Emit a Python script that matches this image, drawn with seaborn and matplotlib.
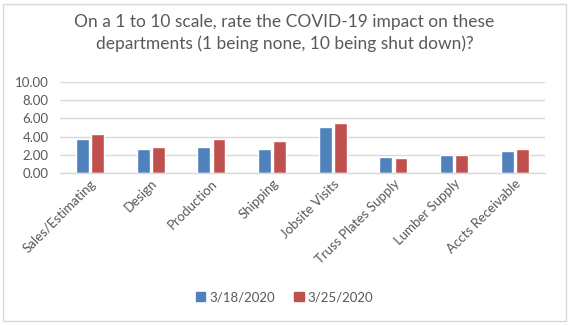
import matplotlib
matplotlib.use("Agg")
import matplotlib.pyplot as plt
import seaborn as sns
import pandas as pd
from matplotlib.patches import Rectangle

departments = ["Sales/Estimating", "Design", "Production", "Shipping",
               "Jobsite Visits", "Truss Plates Supply", "Lumber Supply",
               "Accts Receivable"]
survey_dates = ["3/18/2020", "3/25/2020"]
impact_mar18 = [3.74, 2.65, 2.87, 2.65, 5.05, 1.78, 2.00, 2.44]
impact_mar25 = [4.29, 2.87, 3.74, 3.52, 5.49, 1.67, 2.00, 2.65]
y_ticks = [0, 2, 4, 6, 8, 10]

df = pd.DataFrame({
    "Department": departments * 2,
    "Date": [survey_dates[0]] * len(departments) + [survey_dates[1]] * len(departments),
    "Impact": impact_mar18 + impact_mar25,
})

sns.set_theme(style="white")
plt.rcParams["font.family"] = ["Lato", "DejaVu Sans"]

fig = plt.figure(figsize=(5.69, 3.25), dpi=100)
ax = fig.add_axes([0.105, 0.467, 0.853, 0.282])

palette = {survey_dates[0]: "#4F81BD", survey_dates[1]: "#C0504D"}
sns.barplot(data=df, x="Department", y="Impact", hue="Date", palette=palette,
            order=departments, hue_order=survey_dates, width=0.5, gap=0.15,
            saturation=1, ax=ax, legend=False)

ax.set_ylim(0, 10)
ax.set_yticks(y_ticks)
ax.set_yticklabels([f"{v:.2f}" for v in y_ticks])
ax.set_xlim(-0.5, len(departments) - 0.5)
ax.yaxis.grid(True, color="#D9D9D9", linewidth=1)
ax.set_axisbelow(True)
for side in ["left", "right", "top"]:
    ax.spines[side].set_visible(False)
ax.spines["bottom"].set_color("#D9D9D9")
ax.spines["bottom"].set_linewidth(1)
ax.set_xlabel("")
ax.set_ylabel("")
ax.tick_params(axis="both", length=0, colors="#595959", labelsize=9.5, pad=3)
ax.tick_params(axis="y", pad=8)
plt.setp(ax.get_xticklabels(), rotation=45, ha="right", rotation_mode="anchor")

fig.text(0.5, 0.898, "On a 1 to 10 scale, rate the COVID-19 impact on these\n"
         "departments (1 being none, 10 being shut down)?",
         ha="center", va="center", fontsize=12.5, color="#595959", linespacing=1.45)

handles = [Rectangle((0, 0), 1, 1, color=palette[d]) for d in survey_dates]
fig.legend(handles, survey_dates, loc="center", bbox_to_anchor=(0.5, 0.085),
           ncol=2, frameon=False, fontsize=9.5, handlelength=0.7,
           handleheight=0.7, handletextpad=0.3, columnspacing=1.5,
           labelcolor="#595959")

fig.patches.append(Rectangle((0.006, 0.012), 0.988, 0.976, transform=fig.transFigure,
                             fill=False, edgecolor="#D9D9D9", linewidth=1))

fig.savefig("out.png", dpi=100)
